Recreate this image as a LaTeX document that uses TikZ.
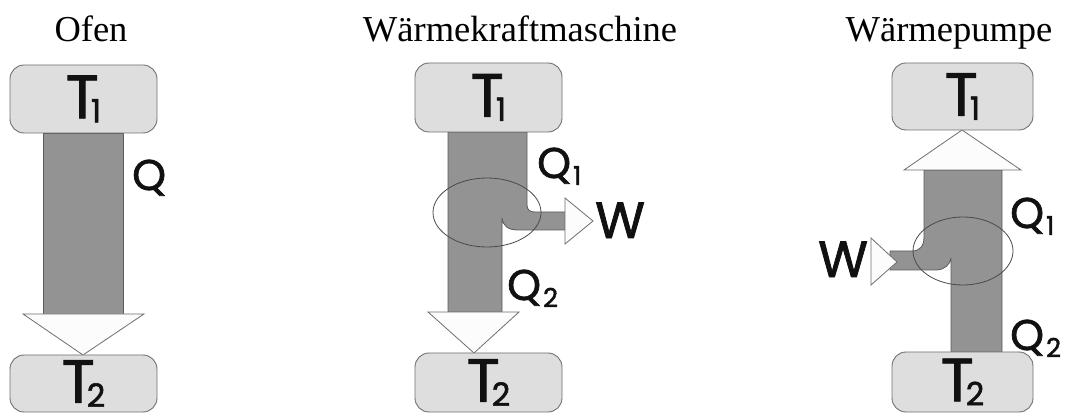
\documentclass[tikz,border=0pt]{standalone}
\usepackage{fontspec}
\setmainfont{Liberation Serif}
\newfontfamily\lblfont[FakeBold=1.6]{Poppins}
\newcommand\Tsym[1]{{\fontsize{61}{61}\selectfont T}\kern-8pt\raisebox{-4pt}{\fontsize{32}{32}\selectfont #1}}
\newcommand\Qsym[1]{{\fontsize{43}{43}\selectfont Q}\kern2pt\raisebox{-7pt}{\fontsize{26}{26}\selectfont #1}}
\newcommand\Wsym{{\fontsize{51}{51}\selectfont W}}
\definecolor{boxfill}{HTML}{DEDEDE}
\definecolor{boxline}{HTML}{707070}
\definecolor{barfill}{HTML}{939393}
\definecolor{barline}{HTML}{5C5C5C}
\definecolor{headfill}{HTML}{FCFCFC}
\definecolor{headline}{HTML}{6E6E6E}
\definecolor{txt}{HTML}{111111}
\tikzset{
  tbox/.style={draw=boxline, fill=boxfill, line width=0.9pt, rounded corners=14pt, inner sep=0pt, font=\lblfont, text=txt},
  lbl/.style={inner sep=0pt, font=\lblfont, text=txt},
  title/.style={inner sep=0pt, font=\fontsize{36.5}{40}\selectfont, anchor=base},
  bar/.style={fill=barfill, draw=barline, line width=0.8pt, line join=round},
  head/.style={fill=headfill, draw=headline, line width=0.8pt, line join=miter},
  ring/.style={draw=barline!80!black, line width=0.8pt}
}
\begin{document}
\begin{tikzpicture}[x=1pt,y=-1pt]
\useasboundingbox (0,0) rectangle (1065,419);

% titles
\node[title] (t1) at (91,42) {Ofen};
\node[title] (t2) at (520,42) {Wärmekraftmaschine};
\node[title] (t3) at (949,42) {Wärmepumpe};

% ---------- Ofen ----------
\draw[bar] (43,133) rectangle (123,314);
\draw[head] (23,314) -- (144,314) -- (83,355) -- cycle;
\node[tbox, minimum width=147pt, minimum height=68pt] (A1) at (83.5,99) {\Tsym{1}};
\node[tbox, minimum width=147pt, minimum height=57pt] (A2) at (83.5,383.5) {\Tsym{2}};
\node[lbl, anchor=base west] (AQ) at (132,190) {\Qsym{}};

% ---------- Waermekraftmaschine ----------
\draw[bar] (448,132) -- (527,132) -- (527,205)
  .. controls (527,210) and (530,212) .. (535,212) -- (567,212) -- (567,230) -- (518,230)
  .. controls (508,230) and (503,226) .. (502,218) -- (502,312) -- (448,312) -- cycle;
\draw[head] (565,198) -- (593,221) -- (565,244) -- cycle;
\draw[head] (428,312) -- (519,312) -- (474,353) -- cycle;
\draw[ring] (487,212.5) ellipse [x radius=54, y radius=34.5];
\node[tbox, minimum width=147pt, minimum height=69pt] (B1) at (488.5,97.5) {\Tsym{1}};
\node[tbox, minimum width=147pt, minimum height=59pt] (B2) at (488.5,382.5) {\Tsym{2}};
\node[lbl, anchor=base west] (BQ1) at (537,178) {\Qsym{1}};
\node[lbl, anchor=base west] (BQ2) at (507,300) {\Qsym{2}};
\node[lbl, anchor=base west] (BW) at (595,238) {\Wsym};

% ---------- Waermepumpe ----------
\draw[bar] (924,170) -- (1002,170) -- (1002,352) -- (951,352) -- (951,258)
  .. controls (950,265) and (944,270) .. (936,270) -- (890,270) -- (890,251) -- (912,251)
  .. controls (920,251) and (924,246) .. (924,237) -- cycle;
\draw[head] (871,238) -- (897,262) -- (871,285) -- cycle;
\draw[head] (904,170) -- (1021,170) -- (962,130) -- cycle;
\draw[ring] (963,251) ellipse [x radius=50, y radius=34];
\node[tbox, minimum width=141pt, minimum height=67pt] (C1) at (962.5,96.5) {\Tsym{1}};
\node[tbox, minimum width=141pt, minimum height=60pt] (C2) at (962.5,382) {\Tsym{2}};
\node[lbl, anchor=base west] (CQ1) at (1010,228) {\Qsym{1}};
\node[lbl, anchor=base west] (CQ2) at (1010,350) {\Qsym{2}};
\node[lbl, anchor=base west] (CW) at (818,277) {\Wsym};
\end{tikzpicture}
\end{document}
